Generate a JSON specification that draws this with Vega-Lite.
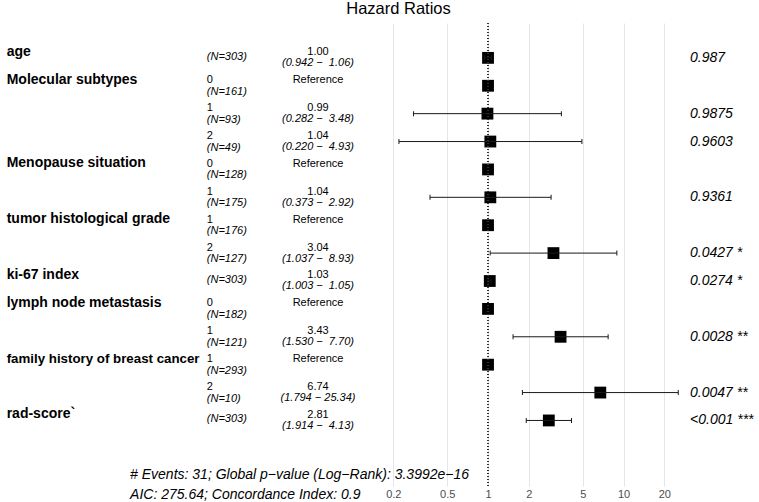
{
  "$schema": "https://vega.github.io/schema/vega-lite/v6.json",
  "width": 759,
  "height": 463,
  "padding": {"top": 1, "left": 0, "right": 0, "bottom": 0},
  "autosize": {"type": "pad"},
  "background": "white",
  "config": {
    "view": {"stroke": null},
    "font": "Liberation Sans",
    "text": {"font": "Liberation Sans", "color": "black"},
    "axisX": {
      "grid": true,
      "gridColor": "#E6E6E6",
      "gridWidth": 1,
      "domain": false,
      "ticks": false,
      "labelColor": "#4D4D4D",
      "labelFont": "Liberation Sans",
      "labelFontSize": 11,
      "labelPadding": 2,
      "title": null
    }
  },
  "title": {
    "text": "Hazard Ratios",
    "font": "Liberation Sans",
    "fontSize": 16.5,
    "fontWeight": "normal",
    "color": "black",
    "anchor": "middle",
    "dx": 19,
    "offset": 5
  },
  "data": {
    "values": [
      {"row": 1, "var": "age", "level": "", "N": "(N=303)", "hr": 1.00, "lo": 0.942, "hi": 1.06, "est": "1.00", "ci": "(0.942 − \u00a01.06)", "p": "0.987"},
      {"row": 2, "var": "Molecular subtypes", "level": "0", "N": "(N=161)", "hr": 1, "lo": null, "hi": null, "est": "Reference", "ci": "", "p": ""},
      {"row": 3, "var": "", "level": "1", "N": "(N=93)", "hr": 0.99, "lo": 0.282, "hi": 3.48, "est": "0.99", "ci": "(0.282 − \u00a03.48)", "p": "0.9875"},
      {"row": 4, "var": "", "level": "2", "N": "(N=49)", "hr": 1.04, "lo": 0.220, "hi": 4.93, "est": "1.04", "ci": "(0.220 − \u00a04.93)", "p": "0.9603"},
      {"row": 5, "var": "Menopause situation", "level": "0", "N": "(N=128)", "hr": 1, "lo": null, "hi": null, "est": "Reference", "ci": "", "p": ""},
      {"row": 6, "var": "", "level": "1", "N": "(N=175)", "hr": 1.04, "lo": 0.373, "hi": 2.92, "est": "1.04", "ci": "(0.373 − \u00a02.92)", "p": "0.9361"},
      {"row": 7, "var": "tumor histological grade", "level": "1", "N": "(N=176)", "hr": 1, "lo": null, "hi": null, "est": "Reference", "ci": "", "p": ""},
      {"row": 8, "var": "", "level": "2", "N": "(N=127)", "hr": 3.04, "lo": 1.037, "hi": 8.93, "est": "3.04", "ci": "(1.037 − \u00a08.93)", "p": "0.0427 *"},
      {"row": 9, "var": "ki-67 index", "level": "", "N": "(N=303)", "hr": 1.03, "lo": 1.003, "hi": 1.05, "est": "1.03", "ci": "(1.003 − \u00a01.05)", "p": "0.0274 *"},
      {"row": 10, "var": "lymph node metastasis", "level": "0", "N": "(N=182)", "hr": 1, "lo": null, "hi": null, "est": "Reference", "ci": "", "p": ""},
      {"row": 11, "var": "", "level": "1", "N": "(N=121)", "hr": 3.43, "lo": 1.530, "hi": 7.70, "est": "3.43", "ci": "(1.530 − \u00a07.70)", "p": "0.0028 **"},
      {"row": 12, "var": "family history of breast cancer", "level": "1", "N": "(N=293)", "hr": 1, "lo": null, "hi": null, "est": "Reference", "ci": "", "p": ""},
      {"row": 13, "var": "", "level": "2", "N": "(N=10)", "hr": 6.74, "lo": 1.794, "hi": 25.34, "est": "6.74", "ci": "(1.794 − 25.34)", "p": "0.0047 **"},
      {"row": 14, "var": "rad-score`", "level": "", "N": "(N=303)", "hr": 2.81, "lo": 1.914, "hi": 4.13, "est": "2.81", "ci": "(1.914 − \u00a04.13)", "p": "<0.001 ***"}
    ]
  },
  "layer": [
    {
      "mark": {"type": "point", "shape": "square", "filled": true, "size": 140, "color": "black", "opacity": 1},
      "encoding": {
        "x": {
          "field": "hr",
          "type": "quantitative",
          "scale": {"type": "log", "domain": [0.00025, 100], "nice": false},
          "axis": {"values": [0.2, 0.5, 1, 2, 5, 10, 20], "format": "~g", "title": null}
        },
        "y": {
          "field": "row",
          "type": "quantitative",
          "scale": {"domain": [-0.25, 16.35], "reverse": true, "nice": false, "zero": false},
          "axis": null
        }
      }
    },
    {
      "transform": [{"filter": "isValid(datum.lo)"}],
      "mark": {"type": "rule", "color": "#1a1a1a", "strokeWidth": 1},
      "encoding": {
        "x": {"field": "lo", "type": "quantitative"},
        "x2": {"field": "hi"},
        "y": {"field": "row", "type": "quantitative", "axis": null}
      }
    },
    {
      "transform": [{"filter": "isValid(datum.lo)"}],
      "mark": {"type": "tick", "orient": "vertical", "size": 5, "thickness": 1, "color": "#1a1a1a", "opacity": 1},
      "encoding": {
        "x": {"field": "lo", "type": "quantitative"},
        "y": {"field": "row", "type": "quantitative", "axis": null}
      }
    },
    {
      "transform": [{"filter": "isValid(datum.hi)"}],
      "mark": {"type": "tick", "orient": "vertical", "size": 5, "thickness": 1, "color": "#1a1a1a", "opacity": 1},
      "encoding": {
        "x": {"field": "hi", "type": "quantitative"},
        "y": {"field": "row", "type": "quantitative", "axis": null}
      }
    },
    {
      "mark": {"type": "rule", "color": "#333333", "strokeWidth": 1, "strokeDash": [1, 2]},
      "encoding": {"x": {"datum": 1}}
    },
    {
      "transform": [{"filter": "datum.var != ''"}],
      "mark": {"type": "text", "align": "left", "baseline": "middle", "fontWeight": "bold", "dy": -6},
      "encoding": {
        "x": {"datum": 0.00028},
        "y": {"field": "row", "type": "quantitative", "axis": null},
        "text": {"field": "var"},
        "size": {"condition": {"test": "length(datum.var) > 25", "value": 13.3}, "value": 14}
      }
    },
    {
      "transform": [{"filter": "datum.level != ''"}],
      "mark": {"type": "text", "align": "left", "baseline": "middle", "fontSize": 11, "dy": -5.5},
      "encoding": {
        "x": {"datum": 0.0084},
        "y": {"field": "row", "type": "quantitative", "axis": null},
        "text": {"field": "level"}
      }
    },
    {
      "transform": [{"filter": "datum.level != ''"}],
      "mark": {"type": "text", "align": "left", "baseline": "middle", "fontSize": 11, "fontStyle": "italic", "dy": 6},
      "encoding": {
        "x": {"datum": 0.0084},
        "y": {"field": "row", "type": "quantitative", "axis": null},
        "text": {"field": "N"}
      }
    },
    {
      "transform": [{"filter": "datum.level == ''"}],
      "mark": {"type": "text", "align": "left", "baseline": "middle", "fontSize": 11, "fontStyle": "italic", "dy": -1},
      "encoding": {
        "x": {"datum": 0.0084},
        "y": {"field": "row", "type": "quantitative", "axis": null},
        "text": {"field": "N"}
      }
    },
    {
      "mark": {"type": "text", "align": "center", "baseline": "middle", "fontSize": 11, "dy": -5.5},
      "encoding": {
        "x": {"datum": 0.0556},
        "y": {"field": "row", "type": "quantitative", "axis": null},
        "text": {"field": "est"}
      }
    },
    {
      "transform": [{"filter": "datum.ci != ''"}],
      "mark": {"type": "text", "align": "center", "baseline": "middle", "fontSize": 11, "fontStyle": "italic", "dy": 5.5},
      "encoding": {
        "x": {"datum": 0.0556},
        "y": {"field": "row", "type": "quantitative", "axis": null},
        "text": {"field": "ci"}
      }
    },
    {
      "transform": [{"filter": "datum.p != ''"}],
      "mark": {"type": "text", "align": "left", "baseline": "middle", "fontSize": 14, "fontStyle": "italic"},
      "encoding": {
        "x": {"datum": 31},
        "y": {"field": "row", "type": "quantitative", "axis": null},
        "text": {"field": "p"}
      }
    },
    {
      "data": {"values": [{"note": "# Events: 31; Global p−value (Log−Rank): 3.3992e−16\nAIC: 275.64; Concordance Index: 0.9"}]},
      "mark": {"type": "text", "align": "left", "baseline": "top", "fontSize": 14, "fontStyle": "italic", "lineBreak": "\n", "lineHeight": 20, "dy": 6},
      "encoding": {
        "x": {"datum": 0.00228},
        "y": {"datum": 15.5},
        "text": {"field": "note"}
      }
    }
  ]
}
